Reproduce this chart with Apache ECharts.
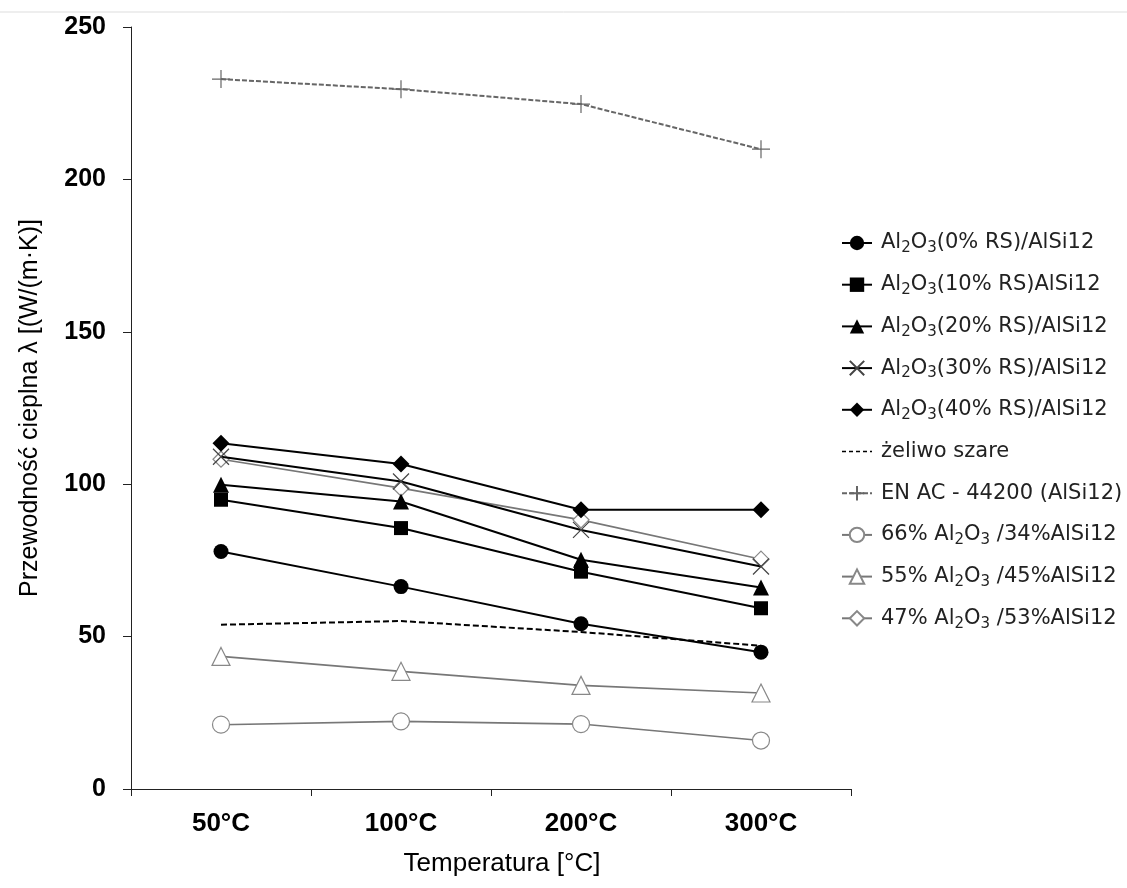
<!DOCTYPE html>
<html><head><meta charset="utf-8">
<script src="https://cdn.jsdelivr.net/npm/echarts@6/dist/echarts.min.js"></script>
<style>html,body{margin:0;padding:0;background:#fff}#c{width:1127px;height:888px}</style>
</head><body><div id="c"></div>
<script>
const categories = ['50°C', '100°C', '200°C', '300°C'];
const yTicks = [0, 50, 100, 150, 200, 250];
const rs0  = [77.9, 66.4, 54.2, 44.9];
const rs10 = [94.9, 85.6, 71.3, 59.3];
const rs20 = [99.8, 94.3, 75.2, 66.1];
const rs30 = [109.0, 100.9, 85.0, 73.0];
const rs40 = [113.4, 106.6, 91.6, 91.6];
const zeliwo = [53.9, 55.1, 51.5, 47.0];
const enac = [232.9, 229.6, 224.7, 209.9];
const al66 = [21.1, 22.2, 21.3, 15.9];
const al55 = [43.5, 38.6, 34.0, 31.5];
const al47 = [108.2, 98.7, 88.3, 75.4];
const names = ['Al2O3(0% RS)/AlSi12', 'Al2O3(10% RS)AlSi12', 'Al2O3(20% RS)/AlSi12', 'Al2O3(30% RS)/AlSi12',
  'Al2O3(40% RS)/AlSi12', 'żeliwo szare', 'EN AC - 44200 (AlSi12)', '66% Al2O3 /34%AlSi12', '55% Al2O3 /45%AlSi12', '47% Al2O3 /53%AlSi12'];

const crossPath = 'path://M0,0L10,10M10,0L0,10';
const plusPath = 'path://M5,0L5,10M0,5L10,5';

function blk(name, data, symbol, size) {
  return {name, type: 'line', data, symbol, symbolSize: size, z: 3,
    lineStyle: {color: '#000', width: 2}, itemStyle: {color: '#000'}};
}
function gry(name, data, symbol, size) {
  return {name, type: 'line', data, symbol, symbolSize: size, z: 2,
    lineStyle: {color: '#777', width: 1.6}, itemStyle: {color: '#fff', borderColor: '#888', borderWidth: 1.2}};
}
const series = [
  blk(names[0], rs0, 'circle', 15),
  blk(names[1], rs10, 'rect', 14),
  blk(names[2], rs20, 'triangle', 16),
  {name: names[3], type: 'line', data: rs30, symbol: crossPath, symbolSize: 16, z: 3,
    lineStyle: {color: '#000', width: 2}, itemStyle: {color: 'none', borderColor: '#444', borderWidth: 1.2}},
  blk(names[4], rs40, 'diamond', 17),
  {name: names[5], type: 'line', data: zeliwo, symbol: 'none', z: 3,
    lineStyle: {color: '#000', width: 2, type: [6, 3]}, itemStyle: {color: '#000'}},
  {name: names[6], type: 'line', data: enac, symbol: plusPath, symbolSize: 18, z: 2,
    lineStyle: {color: '#666', width: 2, type: [5, 2]}, itemStyle: {color: 'none', borderColor: '#666', borderWidth: 1.2}},
  gry(names[7], al66, 'circle', 17),
  gry(names[8], al55, 'triangle', 18),
  gry(names[9], al47, 'diamond', 16)
];

function fmt(n) {
  return n.replace('Al2O3', 'Al{s|2}O{s|3}');
}
const legendData = names.map((n, i) => i === 5
  ? {name: n, itemStyle: {opacity: 0, color: 'rgba(0,0,0,0)', borderWidth: 0}, lineStyle: {type: [4, 3], width: 1.5}}
  : {name: n});

const chart = echarts.init(document.getElementById('c'), null, {renderer: 'canvas'});
chart.setOption({
  animation: false,
  backgroundColor: '#fff',
  grid: {left: 131, right: 276, top: 27, bottom: 99, containLabel: false, outerBoundsMode: 'none'},
  graphic: [{type: 'line', shape: {x1: 0, y1: 12, x2: 1127, y2: 12}, style: {stroke: '#ddd', lineWidth: 1}}],
  xAxis: {
    type: 'category', data: categories, boundaryGap: true,
    name: 'Temperatura [°C]', nameLocation: 'middle', nameGap: 62,
    nameTextStyle: {fontFamily: 'Liberation Sans', fontSize: 26, color: '#000', padding: [0, 0, 0, 22]},
    axisLine: {lineStyle: {color: '#222', width: 1}},
    axisTick: {show: true, length: 7, lineStyle: {color: '#222'}},
    axisLabel: {fontFamily: 'Liberation Sans', fontWeight: 'bold', fontSize: 26, color: '#000', margin: 22}
  },
  yAxis: {
    type: 'value', min: 0, max: 250, interval: 50,
    name: 'Przewodność cieplna λ [(W/(m·K)]', nameLocation: 'middle', nameGap: 88, nameRotate: 90,
    nameTextStyle: {fontFamily: 'Liberation Sans', fontSize: 25, color: '#000'},
    axisLine: {show: true, lineStyle: {color: '#222', width: 1}},
    axisTick: {show: true, length: 8, lineStyle: {color: '#222'}},
    splitLine: {show: false},
    axisLabel: {fontFamily: 'Liberation Sans', fontWeight: 'bold', fontSize: 25, color: '#000', margin: 25,
      formatter: v => yTicks.includes(v) ? String(v) : ''}
  },
  legend: {
    orient: 'vertical', left: 836, top: 224, itemGap: 13.7, itemWidth: 30, itemHeight: 18,
    data: legendData,
    formatter: fmt,
    textStyle: {fontFamily: 'DejaVu Sans', fontSize: 21, color: '#222', lineHeight: 28, padding: [0, 0, 0, 4],
      rich: {s: {fontFamily: 'DejaVu Sans', fontSize: 15, color: '#222', lineHeight: 28, padding: [11, 0, 0, 0]}}}
  },
  series
});
</script></body></html>
